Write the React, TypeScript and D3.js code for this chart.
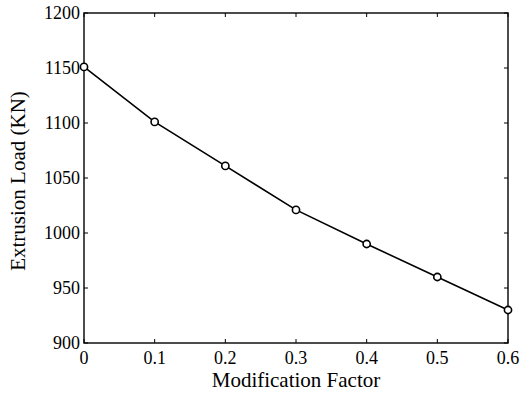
import * as d3 from "d3";
import { useEffect, useRef } from "react";

const modificationFactor = [0, 0.1, 0.2, 0.3, 0.4, 0.5, 0.6];
const extrusionLoad = [1151, 1101, 1061, 1021, 990, 960, 930];
const xTicks = [0, 0.1, 0.2, 0.3, 0.4, 0.5, 0.6];
const xTickLabels = ["0", "0.1", "0.2", "0.3", "0.4", "0.5", "0.6"];
const yTicks = [900, 950, 1000, 1050, 1100, 1150, 1200];
const yTickLabels = ["900", "950", "1000", "1050", "1100", "1150", "1200"];

const App = () => {
  const ref = useRef<SVGSVGElement | null>(null);

  useEffect(() => {
    document.body.style.margin = "0";
    const width = 521;
    const height = 394;
    const margin = { top: 13, right: 13, bottom: 51, left: 84 };
    const font = "'Liberation Serif', 'Times New Roman', serif";

    const svg = d3.select(ref.current);
    svg.selectAll("*").remove();

    const x = d3
      .scaleLinear()
      .domain([0, 0.6])
      .range([margin.left, width - margin.right]);
    const y = d3
      .scaleLinear()
      .domain([900, 1200])
      .range([height - margin.bottom, margin.top]);

    const [x0, x1] = x.range();
    const [y0, y1] = y.range();
    const tick = 4;

    // ticks, pointing inward on all four sides
    const g = svg.append("g").attr("stroke", "#000").attr("stroke-width", 1);
    xTicks.forEach((t) => {
      g.append("line").attr("x1", x(t)).attr("x2", x(t)).attr("y1", y0).attr("y2", y0 - tick);
      g.append("line").attr("x1", x(t)).attr("x2", x(t)).attr("y1", y1).attr("y2", y1 + tick);
    });
    yTicks.forEach((t) => {
      g.append("line").attr("x1", x0).attr("x2", x0 + tick).attr("y1", y(t)).attr("y2", y(t));
      g.append("line").attr("x1", x1).attr("x2", x1 - tick).attr("y1", y(t)).attr("y2", y(t));
    });

    // box
    svg
      .append("rect")
      .attr("x", x0)
      .attr("y", y1)
      .attr("width", x1 - x0)
      .attr("height", y0 - y1)
      .attr("fill", "none")
      .attr("stroke", "#000")
      .attr("stroke-width", 1.4);

    // tick labels
    svg
      .selectAll(".xt")
      .data(xTicks)
      .enter()
      .append("text")
      .attr("x", (d) => x(d))
      .attr("y", y0 + 21)
      .attr("text-anchor", "middle")
      .attr("font-family", font)
      .attr("font-size", 18)
      .text((_, i) => xTickLabels[i]);

    svg
      .selectAll(".yt")
      .data(yTicks)
      .enter()
      .append("text")
      .attr("x", x0 - 4)
      .attr("y", (d) => y(d) + 6)
      .attr("text-anchor", "end")
      .attr("font-family", font)
      .attr("font-size", 18)
      .text((_, i) => yTickLabels[i]);

    // axis titles
    svg
      .append("text")
      .attr("x", (x0 + x1) / 2)
      .attr("y", height - 7)
      .attr("text-anchor", "middle")
      .attr("font-family", font)
      .attr("font-size", 21)
      .text("Modification Factor");

    svg
      .append("text")
      .attr("transform", `translate(25, ${(y0 + y1) / 2 + 3}) rotate(-90)`)
      .attr("text-anchor", "middle")
      .attr("font-family", font)
      .attr("font-size", 21)
      .text("Extrusion Load (KN)");

    // line and markers
    const pts = modificationFactor.map((m, i) => [m, extrusionLoad[i]] as [number, number]);
    svg
      .append("path")
      .datum(pts)
      .attr("fill", "none")
      .attr("stroke", "#000")
      .attr("stroke-width", 1.6)
      .attr(
        "d",
        d3
          .line<[number, number]>()
          .x((d) => x(d[0]))
          .y((d) => y(d[1]))
      );

    svg
      .selectAll("circle")
      .data(pts)
      .enter()
      .append("circle")
      .attr("cx", (d) => x(d[0]))
      .attr("cy", (d) => y(d[1]))
      .attr("r", 3.6)
      .attr("fill", "#fff")
      .attr("stroke", "#000")
      .attr("stroke-width", 1.6);
  }, []);

  return <svg ref={ref} width={521} height={394} style={{ display: "block" }} />;
};

export default App;
